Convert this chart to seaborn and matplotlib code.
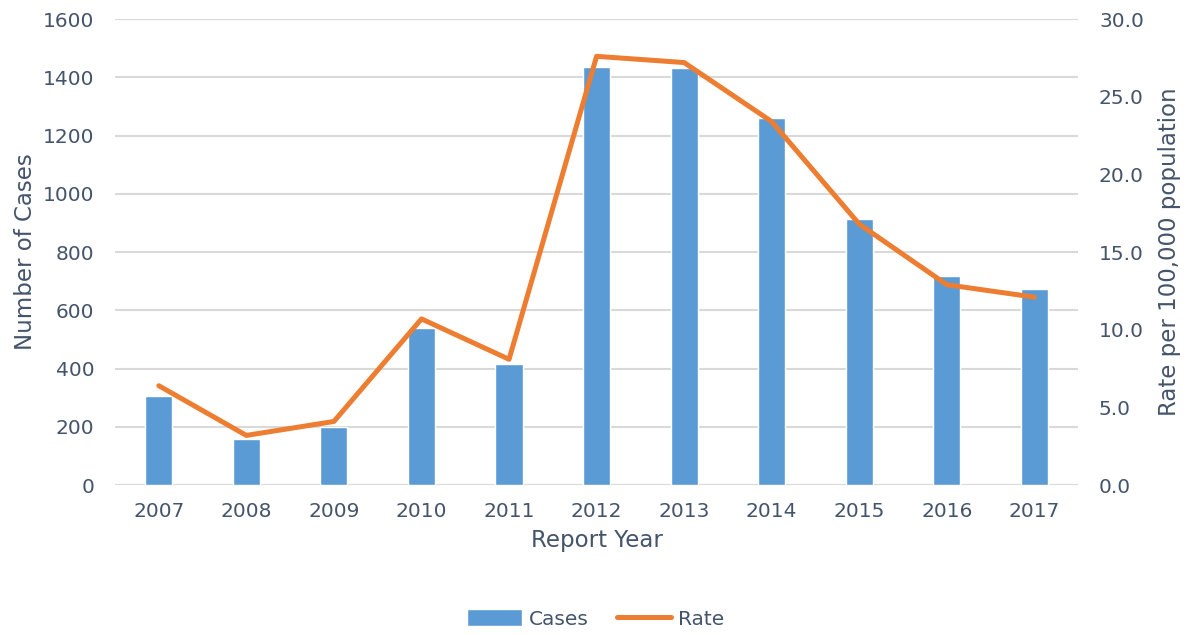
import numpy as np
import pandas as pd
import matplotlib.pyplot as plt
import seaborn as sns
from matplotlib.patches import Patch
from matplotlib.lines import Line2D

# data
years = ['2007', '2008', '2009', '2010', '2011', '2012', '2013', '2014', '2015', '2016', '2017']
cases = [305, 160, 200, 540, 415, 1435, 1432, 1260, 915, 717, 672]
rate = [6.4, 3.2, 4.1, 10.7, 8.1, 27.6, 27.2, 23.4, 16.8, 12.9, 12.1]

df = pd.DataFrame({'year': years, 'cases': cases, 'rate': rate})
df['pos'] = np.arange(len(df))

blue = '#5B9BD5'
orange = '#ED7D31'
txt = '#44546A'

sns.set_theme(style='white')
plt.rcParams['font.family'] = ['DejaVu Sans']

fig = plt.figure(figsize=(11.92, 6.35), dpi=100)
ax = fig.add_axes([0.0965, 0.236, 0.808, 0.734])

sns.barplot(data=df, x='year', y='cases', color=blue, width=0.31, saturation=1, ax=ax)
ax.set_ylim(0, 1600)
ax.set_xlim(-0.5, len(years) - 0.5)
ax.set_yticks(range(0, 1601, 200))
ax.yaxis.grid(True, color='#D9D9D9', linewidth=1.5)
ax.set_axisbelow(True)
for s in ax.spines.values():
    s.set_visible(False)
ax.set_xlabel('Report Year', fontsize=16.5, color=txt, labelpad=6)
ax.set_ylabel('Number of Cases', fontsize=16.5, color=txt, labelpad=4)
ax.tick_params(axis='y', length=0, labelsize=14.5, colors=txt, pad=15)
ax.tick_params(axis='x', length=0, labelsize=14.5, colors=txt, pad=12)

ax2 = ax.twinx()
sns.lineplot(data=df, x='pos', y='rate', color=orange, linewidth=3.6, ax=ax2)
ax2.set_ylim(0, 30)
ax2.set_yticks(np.arange(0, 30.1, 5))
ax2.set_yticklabels([f'{v:.1f}' for v in np.arange(0, 30.1, 5)])
ax2.set_xlim(-0.5, len(years) - 0.5)
for s in ax2.spines.values():
    s.set_visible(False)
ax2.set_ylabel('Rate per 100,000 population', fontsize=16.5, color=txt, labelpad=10)
ax2.tick_params(axis='y', length=0, labelsize=14.5, colors=txt, pad=15)
ax2.grid(False)

handles = [Patch(facecolor=blue, label='Cases'),
           Line2D([0], [0], color=orange, linewidth=3.6, label='Rate')]
fig.legend(handles=handles, loc='center', bbox_to_anchor=(0.5, 0.025), ncol=2,
           frameon=False, fontsize=14.5, labelcolor=txt, handlelength=2.7,
           handleheight=0.9, columnspacing=1.4, handletextpad=0.35)

fig.savefig('out.png', dpi=100)
